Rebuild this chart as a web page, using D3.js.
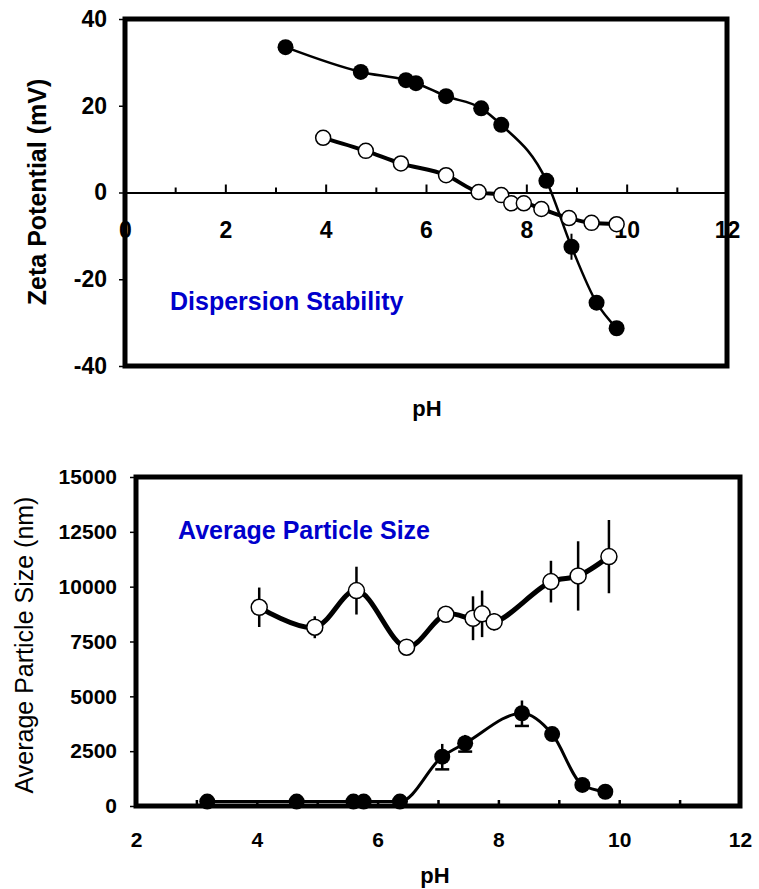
<!DOCTYPE html>
<html>
<head>
<meta charset="utf-8">
<script src="https://cdn.jsdelivr.net/npm/d3@7"></script>
<style>
  body { margin: 0; background: #fff; }
  svg { display: block; font-family: "Liberation Sans", Arial, sans-serif; }
</style>
</head>
<body>
<script>
// zeta potential vs pH
var zetaFilledPH = [3.2, 4.7, 5.6, 5.8, 6.4, 7.1, 7.5, 8.4, 8.9, 9.4, 9.8];
var zetaFilled = [33.5, 27.8, 25.9, 25.2, 22.2, 19.4, 15.6, 2.7, -12.5, -25.4, -31.3];
var zetaFilledErr = [0, 0, 0, 0, 0, 0, 0, 0, 3, 0, 0];
var zetaOpenPH = [3.95, 4.8, 5.5, 6.4, 7.05, 7.5, 7.7, 7.95, 8.3, 8.85, 9.3, 9.8];
var zetaOpen = [12.6, 9.6, 6.7, 4.0, 0.1, -0.6, -2.5, -2.5, -3.8, -5.9, -7.0, -7.3];

// average particle size vs pH
var sizeOpenPH = [4.04, 4.96, 5.65, 6.48, 7.13, 7.58, 7.73, 7.93, 8.87, 9.32, 9.83];
var sizeOpen = [9060, 8150, 9820, 7240, 8740, 8560, 8760, 8400, 10230, 10490, 11370];
var sizeOpenErr = [900, 500, 1090, 150, 150, 1000, 1060, 400, 950, 1580, 1670];
var sizeFilledPH = [3.18, 4.66, 5.6, 5.77, 6.37, 7.07, 7.45, 8.39, 8.89, 9.39, 9.77];
var sizeFilled = [200, 200, 200, 200, 200, 2250, 2860, 4230, 3280, 960, 650];
var sizeFilledErr = [0, 0, 0, 0, 0, 580, 380, 580, 0, 0, 0];

var zetaTicks = [-40, -20, 0, 20, 40];
var sizeTicks = [0, 2500, 5000, 7500, 10000, 12500, 15000];
var zetaXLabels = [0, 2, 4, 6, 8, 10, 12];
var sizeXLabels = [2, 4, 6, 8, 10, 12];

var blue = "#0000cc";
var fontFam = '"Liberation Sans", Arial, sans-serif';

var svg = d3.select("body").append("svg").attr("width", 759).attr("height", 889);

function pts(xs, ys, es) {
  return xs.map((x, i) => ({ x: x, y: ys[i], e: es ? es[i] : 0 }));
}

function styleLabels(g, size) {
  g.attr("font-family", fontFam);
  g.selectAll("text").attr("font-size", size).attr("font-weight", "bold").attr("fill", "#000");
}

// ---------- top chart ----------
var x1 = d3.scaleLinear().domain([0, 12]).range([125, 727]);
var y1 = d3.scaleLinear().domain([-40, 40]).range([366, 19]);
var topG = svg.append("g");

// y axis
topG.append("g")
  .attr("transform", "translate(125,0)")
  .call(d3.axisLeft(y1).tickValues(zetaTicks).tickSize(6).tickPadding(12).tickSizeOuter(0).tickFormat(d => String(d)))
  .call(g => g.select(".domain").remove())
  .call(g => styleLabels(g, 23))
  .call(g => g.selectAll("line").attr("stroke-width", 1.5));

// zero line with ticks pointing up
topG.append("g")
  .attr("transform", `translate(0,${y1(0)})`)
  .call(d3.axisBottom(x1).tickValues(d3.range(1, 12, 2)).tickSize(-5).tickFormat("").tickSizeOuter(0))
  .call(g => g.select(".domain").attr("stroke-width", 2))
  .call(g => g.selectAll("line").attr("stroke-width", 2));
topG.append("g")
  .attr("transform", `translate(0,${y1(0)})`)
  .call(d3.axisBottom(x1).tickValues(zetaXLabels).tickSize(-8).tickPadding(29).tickSizeOuter(0).tickFormat(d => String(d)))
  .call(g => g.select(".domain").remove())
  .call(g => g.selectAll("line").attr("stroke-width", 2))
  .call(g => styleLabels(g, 23));

var line1 = d3.line().x(d => x1(d.x)).y(d => y1(d.y)).curve(d3.curveMonotoneX);

var zf = pts(zetaFilledPH, zetaFilled, zetaFilledErr);
var zo = pts(zetaOpenPH, zetaOpen);

topG.append("path").datum(zo).attr("d", line1).attr("fill", "none").attr("stroke", "#000").attr("stroke-width", 4);
topG.append("path").datum(zf).attr("d", line1).attr("fill", "none").attr("stroke", "#000").attr("stroke-width", 2.5);

topG.selectAll(".zerr").data(zf.filter(d => d.e > 0)).enter().append("line")
  .attr("x1", d => x1(d.x)).attr("x2", d => x1(d.x))
  .attr("y1", d => y1(d.y - d.e)).attr("y2", d => y1(d.y + d.e))
  .attr("stroke", "#000").attr("stroke-width", 2);

topG.selectAll(".zo").data(zo).enter().append("circle")
  .attr("cx", d => x1(d.x)).attr("cy", d => y1(d.y)).attr("r", 7.5)
  .attr("fill", "#fff").attr("stroke", "#000").attr("stroke-width", 1.5);
topG.selectAll(".zf").data(zf).enter().append("circle")
  .attr("cx", d => x1(d.x)).attr("cy", d => y1(d.y)).attr("r", 8)
  .attr("fill", "#000");

// frame
topG.append("rect").attr("x", 125).attr("y", 19).attr("width", 602).attr("height", 347)
  .attr("fill", "none").attr("stroke", "#000").attr("stroke-width", 5);

topG.append("text").attr("x", 170).attr("y", 310).attr("font-size", 25).attr("font-weight", "bold")
  .attr("fill", blue).text("Dispersion Stability");
topG.append("text").attr("x", 427).attr("y", 416).attr("text-anchor", "middle")
  .attr("font-size", 22).attr("font-weight", "bold").text("pH");
topG.append("text").attr("transform", "translate(46,192) rotate(-90)").attr("text-anchor", "middle")
  .attr("font-size", 25).attr("font-weight", "bold").text("Zeta Potential (mV)");

// ---------- bottom chart ----------
var x2 = d3.scaleLinear().domain([2, 12]).range([136, 740]);
var y2 = d3.scaleLinear().domain([0, 15000]).range([806, 477]);
var botG = svg.append("g");

botG.append("g")
  .attr("transform", "translate(136,0)")
  .call(d3.axisLeft(y2).tickValues(sizeTicks).tickSize(6).tickPadding(13).tickSizeOuter(0).tickFormat(d => String(d)))
  .call(g => g.select(".domain").remove())
  .call(g => styleLabels(g, 21))
  .call(g => g.selectAll("line").attr("stroke-width", 1.5));

botG.append("g")
  .attr("transform", "translate(0,806)")
  .call(d3.axisBottom(x2).tickValues(d3.range(3, 12)).tickSize(-6).tickFormat("").tickSizeOuter(0))
  .call(g => g.select(".domain").remove())
  .call(g => g.selectAll("line").attr("stroke-width", 2.5));
botG.append("g")
  .attr("transform", "translate(0,806)")
  .call(d3.axisBottom(x2).tickValues(sizeXLabels).tickSize(0).tickPadding(26).tickSizeOuter(0).tickFormat(d => String(d)))
  .call(g => g.select(".domain").remove())
  .call(g => styleLabels(g, 21));

var line2 = d3.line().x(d => x2(d.x)).y(d => y2(d.y)).curve(d3.curveCatmullRom);
var line2f = d3.line().x(d => x2(d.x)).y(d => y2(d.y)).curve(d3.curveMonotoneX);

var so = pts(sizeOpenPH, sizeOpen, sizeOpenErr);
var sf = pts(sizeFilledPH, sizeFilled, sizeFilledErr);

botG.selectAll(".soerr").data(so).enter().append("line")
  .attr("x1", d => x2(d.x)).attr("x2", d => x2(d.x))
  .attr("y1", d => y2(d.y - d.e)).attr("y2", d => y2(d.y + d.e))
  .attr("stroke", "#000").attr("stroke-width", 2.5);

var sfe = sf.filter(d => d.e > 0);
botG.selectAll(".sferr").data(sfe).enter().append("line")
  .attr("x1", d => x2(d.x)).attr("x2", d => x2(d.x))
  .attr("y1", d => y2(d.y - d.e)).attr("y2", d => y2(d.y + d.e))
  .attr("stroke", "#000").attr("stroke-width", 2.5);
botG.selectAll(".sfcap").data(sfe).enter().append("line")
  .attr("x1", d => x2(d.x) - 7).attr("x2", d => x2(d.x) + 7)
  .attr("y1", d => y2(d.y - d.e)).attr("y2", d => y2(d.y - d.e))
  .attr("stroke", "#000").attr("stroke-width", 2.5);

botG.append("path").datum(so).attr("d", line2).attr("fill", "none").attr("stroke", "#000").attr("stroke-width", 5);
botG.append("path").datum(sf).attr("d", line2f).attr("fill", "none").attr("stroke", "#000").attr("stroke-width", 3);

botG.selectAll(".so").data(so).enter().append("circle")
  .attr("cx", d => x2(d.x)).attr("cy", d => y2(d.y)).attr("r", 8)
  .attr("fill", "#fff").attr("stroke", "#000").attr("stroke-width", 1.5);
botG.selectAll(".sf").data(sf).enter().append("circle")
  .attr("cx", d => x2(d.x)).attr("cy", d => y2(d.y)).attr("r", 8)
  .attr("fill", "#000");

botG.append("rect").attr("x", 136).attr("y", 477).attr("width", 604).attr("height", 329)
  .attr("fill", "none").attr("stroke", "#000").attr("stroke-width", 5);

botG.append("text").attr("x", 178).attr("y", 539).attr("font-size", 25).attr("font-weight", "bold")
  .attr("fill", blue).text("Average Particle Size");
botG.append("text").attr("x", 435).attr("y", 883).attr("text-anchor", "middle")
  .attr("font-size", 22).attr("font-weight", "bold").text("pH");
botG.append("text").attr("transform", "translate(33,645) rotate(-90)").attr("text-anchor", "middle")
  .attr("font-size", 25).text("Average Particle Size (nm)");
</script>
</body>
</html>
